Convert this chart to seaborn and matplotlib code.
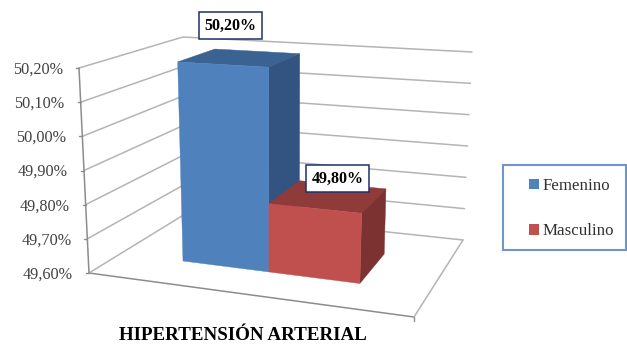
import numpy as np
import pandas as pd
import matplotlib
matplotlib.use("Agg")
import matplotlib.pyplot as plt
import seaborn as sns
from matplotlib.patches import Polygon, Rectangle, Patch
from matplotlib.transforms import Affine2D, Transform

# Data
categories = ["HIPERTENSIÓN ARTERIAL"]
groups = ["Femenino", "Masculino"]
values = [50.20, 49.80]
value_labels = ["50,20%", "49,80%"]
axis_ticks = [49.6, 49.7, 49.8, 49.9, 50.0, 50.1, 50.2]
axis_tick_labels = ["49,60%", "49,70%", "49,80%", "49,90%", "50,00%", "50,10%", "50,20%"]

# Colours of each bar: front, top and side faces
front_colors = ["#4f81bd", "#c0504d"]
top_colors = ["#3b6391", "#8f3b39"]
side_colors = ["#335380", "#7b3230"]
GRID = "#b4b4b4"
AXIS = "#8c8c8c"

sns.set_theme(style="white")
plt.rcParams["font.family"] = ["Liberation Serif", "DejaVu Serif"]

fig = plt.figure(figsize=(6.27, 3.44), dpi=100, facecolor="white")
ax = fig.add_axes([0, 0, 1, 1])

frame = pd.DataFrame({"cat": categories * 2, "group": groups, "value": values})
sns.barplot(data=frame, x="cat", y="value", hue="group", hue_order=groups,
            palette=front_colors, saturation=1, width=0.8, legend=False, ax=ax)
ax.set_xlim(-0.703, 0.693)
ax.set_ylim(axis_ticks[0], axis_ticks[-1])
ax.axis("off")

# Pixel space of the figure, y pointing down
PX = Affine2D().scale(1 / 627, -1 / 344).translate(0, 1) + fig.transFigure

# Box of the 3D scene: [depth][height][left/right], in pixels
BOX = np.array([
    [[(89, 273), (414, 317)], [(79, 68), (424, 89)]],
    [[(190, 211), (463, 240)], [(183, 37), (472, 52)]],
], dtype=float)
DEPTH_FRONT, DEPTH_BACK = 0.32, 0.72
FORESHORTEN = 0.1


def project(x, y, w):
    """Map data x, data y and a 0-1 depth into figure pixels."""
    x0, x1 = ax.get_xlim()
    y0, y1 = ax.get_ylim()
    u = (np.asarray(x, float) - x0) / (x1 - x0)
    u = u - FORESHORTEN * u * (1 - u)
    v = (np.clip(np.asarray(y, float), y0, None) - y0) / (y1 - y0)
    u, v = u[..., None], v[..., None]
    bottom = BOX[0, 0, 0] * (1 - u) + BOX[0, 0, 1] * u
    top = BOX[0, 1, 0] * (1 - u) + BOX[0, 1, 1] * u
    bottom_b = BOX[1, 0, 0] * (1 - u) + BOX[1, 0, 1] * u
    top_b = BOX[1, 1, 0] * (1 - u) + BOX[1, 1, 1] * u
    front = bottom * (1 - v) + top * v
    back = bottom_b * (1 - v) + top_b * v
    return front * (1 - w) + back * w


class FrontPlane(Transform):
    """Carries the flat bars onto the front plane of the 3D bars."""
    input_dims = output_dims = 2

    def transform_non_affine(self, pts):
        pts = np.asarray(pts, float)
        return project(pts[:, 0], pts[:, 1], DEPTH_FRONT)


line_px = dict(transform=PX, clip_on=False)

# Floor edges
floor = [((0, 0), (1, 0)), ((1, 0), (1, 1)), ((1, 1), (0, 1)), ((0, 1), (0, 0))]
xl = ax.get_xlim()
ymin, ymax = axis_ticks[0], axis_ticks[-1]
corner = lambda side, w: project(xl[side], ymin, w)
for (s0, w0), (s1, w1) in floor:
    a, b = corner(s0, w0), corner(s1, w1)
    ax.plot([a[0], b[0]], [a[1], b[1]], color=AXIS if w0 == w1 == 0 else GRID,
            lw=1.1, zorder=1, **line_px)
end = corner(1, 0)
ax.plot([end[0], end[0]], [end[1], end[1] + 4], color=AXIS, lw=1, zorder=1, **line_px)

# Gridlines on the left and back walls, axis line and tick labels
for tick, label in zip(axis_ticks, axis_tick_labels):
    a = project(xl[0], tick, 0)
    b = project(xl[0], tick, 1)
    c = project(xl[1], tick, 1)
    if tick > ymin:
        ax.plot([a[0], b[0], c[0]], [a[1], b[1], c[1]], color=GRID, lw=1.1, zorder=1, **line_px)
    ax.plot([a[0] - 3, a[0]], [a[1], a[1]], color=AXIS, lw=1, zorder=1, **line_px)
    ax.text(a[0] - 16, a[1] + 1.5, label, ha="right", va="center", fontsize=11.7,
            color="#404040", transform=PX)
a, b = project(xl[0], ymin, 0), project(xl[0], ymax, 0)
ax.plot([a[0], b[0]], [a[1], b[1]], color=AXIS, lw=1.1, zorder=1, **line_px)

# Bars: seaborn's rectangles become the front faces, top and side are added behind them
label_offsets = [(7, -39), (22, -30)]
bars = [c[0] for c in ax.containers]
plane = FrontPlane() + PX
for i, bar in enumerate(bars):
    x0, x1, val = bar.get_x(), bar.get_x() + bar.get_width(), bar.get_height()
    bar.set_transform(plane)
    bar.set_clip_on(False)
    bar.set_zorder(4 + 2 * i)
    bar.set_edgecolor(front_colors[i])
    bar.set_linewidth(0.3)
    tfl, tfr = project(x0, val, DEPTH_FRONT), project(x1, val, DEPTH_FRONT)
    tbl, tbr = project(x0, val, DEPTH_BACK), project(x1, val, DEPTH_BACK)
    bfr, bbr = project(x1, ymin, DEPTH_FRONT), project(x1, ymin, DEPTH_BACK)
    ax.add_patch(Polygon([tfl, tfr, tbr, tbl], closed=True, fc=top_colors[i], ec=top_colors[i],
                         lw=0.3, zorder=3 + 2 * i, **line_px))
    ax.add_patch(Polygon([tfr, tbr, bbr, bfr], closed=True, fc=side_colors[i], ec=side_colors[i],
                         lw=0.3, zorder=3 + 2 * i, **line_px))
    dx, dy = label_offsets[i]
    cx, cy = (tfl + tfr) / 2
    ax.text(cx + dx, cy + dy, value_labels[i], ha="center", va="center", fontsize=11.5,
            fontweight="bold", color="black", transform=PX, zorder=10,
            bbox=dict(boxstyle="square,pad=0.33", fc="white", ec="#1f2f6b", lw=1.1))

# Category name under the chart
ax.text(243, 335, categories[0], ha="center", va="center", fontsize=13.7,
        fontweight="bold", color="black", transform=PX)

# Legend panel running to the right edge
ax.add_patch(Rectangle((503, 165), 123, 85, fc="white", ec="#6f96c8", lw=1.5, zorder=8, **line_px))
handles = [Patch(fc=c, ec="none", label=g) for c, g in zip(front_colors, groups)]
ax.legend(handles=handles, loc="upper left", bbox_to_anchor=(529 / 627, 1 - 178 / 344),
          bbox_transform=fig.transFigure, frameon=False, fontsize=12.2, handlelength=0.6,
          handleheight=0.6, handletextpad=0.2, labelspacing=1.72, borderpad=0, borderaxespad=0,
          labelcolor="#303030").set_zorder(9)

fig.savefig("out.png", dpi=100)
